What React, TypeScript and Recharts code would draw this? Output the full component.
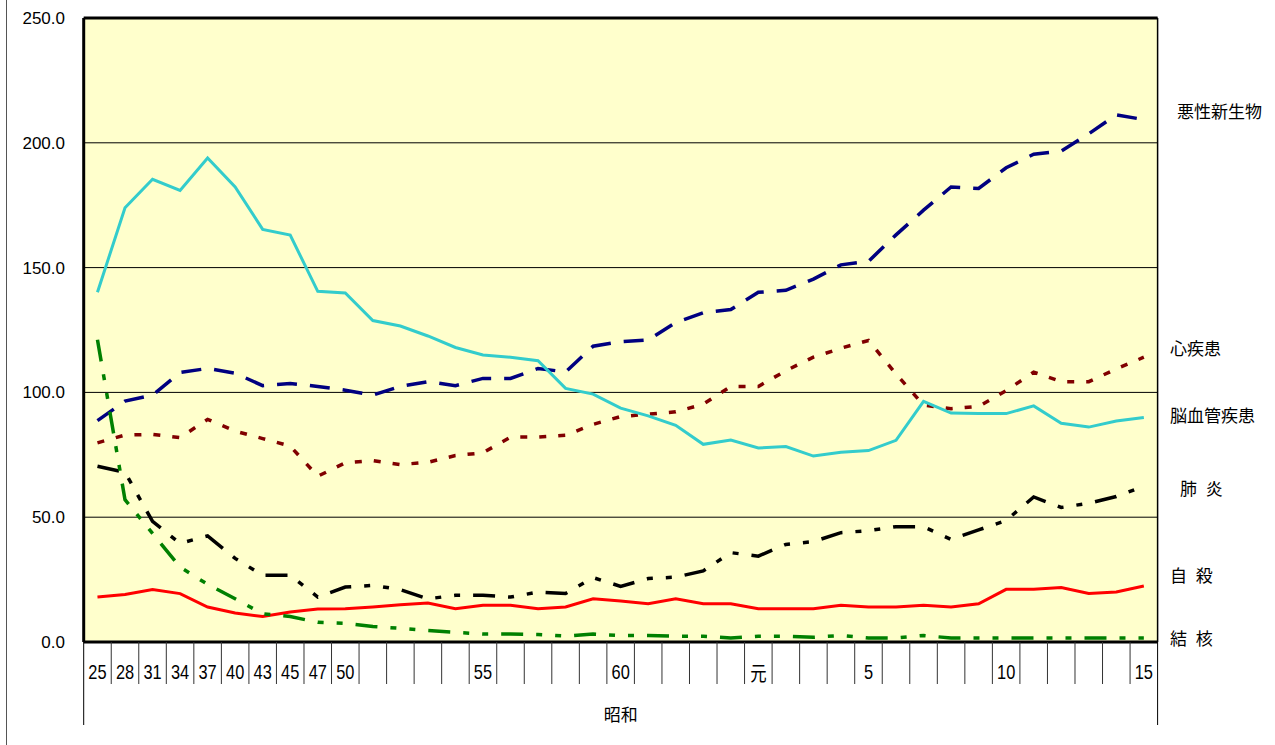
import React from 'react';
import { LineChart, Line, XAxis, YAxis, CartesianGrid, ReferenceLine } from 'recharts';

// ---- categories (昭和25 … 平成15) ----
const categories = [
  'S25', 'S28', 'S31', 'S34', 'S37', 'S40', 'S43', 'S45', 'S47', 'S50',
  'S51', 'S52', 'S53', 'S54', 'S55', 'S56', 'S57', 'S58', 'S59', 'S60',
  'S61', 'S62', 'S63', 'S64', 'H1', 'H2', 'H3', 'H4', 'H5', 'H6',
  'H7', 'H8', 'H9', 'H10', 'H11', 'H12', 'H13', 'H14', 'H15',
];

const xTickLabels = [
  '25', '28', '31', '34', '37', '40', '43', '45', '47', '50',
  '', '', '', '', '55', '', '', '', '', '60',
  '', '', '', '', '元', '', '', '', '5', '',
  '', '', '', '10', '', '', '', '', '15',
];

const yTicks = [0, 50, 100, 150, 200, 250];

// ---- series values ----
const cancer = [88.7, 96.5, 98.9, 108.0, 109.6, 107.7, 102.7, 103.6, 102.4, 100.9, 98.9, 102.4, 104.3, 102.7, 105.6, 105.6, 109.6, 108.2, 118.5, 120.3, 121.0, 128.0, 131.9, 133.2, 140.1, 140.9, 145.4, 151.1, 152.5, 163.1, 173.0, 182.3, 181.7, 190.0, 195.4, 196.7, 203.6, 211.2, 209.3];
const heart = [79.8, 82.9, 83.2, 81.9, 89.2, 84.5, 81.5, 78.5, 66.4, 71.8, 72.7, 71.1, 72.0, 74.7, 75.8, 82.1, 82.1, 82.8, 87.2, 90.3, 91.3, 92.2, 95.3, 102.4, 102.4, 108.7, 114.1, 117.7, 120.8, 107.4, 94.9, 93.5, 94.4, 100.7, 108.1, 104.3, 104.3, 109.4, 114.1];
const cerebro = [140.1, 174.0, 185.4, 180.9, 193.9, 182.3, 165.3, 163.0, 140.5, 139.8, 128.8, 126.6, 122.6, 118.0, 115.0, 114.1, 112.7, 101.6, 99.3, 93.7, 90.6, 86.8, 79.2, 80.9, 77.7, 78.3, 74.5, 76.0, 76.7, 80.8, 96.4, 91.7, 91.5, 91.5, 94.6, 87.6, 86.1, 88.5, 89.9];
const pneumonia = [70.4, 68.0, 48.3, 39.5, 42.5, 33.5, 26.7, 26.7, 18.0, 22.0, 22.7, 21.0, 17.3, 18.7, 18.7, 18.0, 20.0, 19.4, 25.8, 22.3, 25.4, 26.0, 28.5, 35.8, 34.4, 39.1, 40.2, 43.8, 44.6, 46.2, 46.2, 41.1, 44.9, 48.7, 58.1, 53.9, 55.6, 58.3, 62.4];
const suicide = [18.0, 19.0, 21.0, 19.4, 14.0, 11.6, 10.2, 12.0, 13.2, 13.3, 14.0, 14.9, 15.6, 13.3, 14.7, 14.7, 13.3, 14.0, 17.3, 16.4, 15.3, 17.3, 15.3, 15.3, 13.3, 13.3, 13.3, 14.7, 14.0, 14.0, 14.7, 14.0, 15.3, 21.1, 21.1, 21.8, 19.4, 20.0, 22.4];
const tuberculosis = [121.1, 57.0, 43.5, 30.0, 23.1, 17.3, 11.3, 10.2, 7.9, 7.5, 6.2, 5.5, 4.6, 3.9, 3.2, 3.2, 3.0, 2.4, 3.2, 2.6, 2.6, 2.3, 2.3, 1.6, 2.3, 2.3, 1.9, 2.6, 1.6, 1.6, 2.6, 1.6, 1.6, 1.6, 1.6, 1.6, 1.6, 1.6, 1.6];

const seriesNames = ['悪性新生物', '心疾患', '脳血管疾患', '肺 炎', '自 殺', '結 核'];
const eraLabel = '昭和';

const data = categories.map((c, i) => ({
  key: c,
  cancer: cancer[i],
  heart: heart[i],
  cerebro: cerebro[i],
  pneumonia: pneumonia[i],
  suicide: suicide[i],
  tuberculosis: tuberculosis[i],
}));

// ---- layout ----
const W = 1275;
const H = 745;
const PLOT_LEFT = 83.7;
const PLOT_RIGHT = 1157.6;
const PLOT_TOP = 18;
const PLOT_BOTTOM = 642;
const CELL = (PLOT_RIGHT - PLOT_LEFT) / categories.length;
const LATIN = "'Liberation Sans', Arial, Helvetica, sans-serif";
const CJK = "'Noto Sans CJK JP', 'Noto Sans CJK SC', sans-serif";

const labelPositions = [
  { x: 1177, y: 110 },
  { x: 1170, y: 347 },
  { x: 1170, y: 414 },
  { x: 1180, y: 487 },
  { x: 1170, y: 574 },
  { x: 1170, y: 637 },
];

const XTick = (props: any) => {
  const { x, y, index } = props;
  const label = xTickLabels[index];
  const last = index === categories.length - 1;
  return (
    <g>
      {index === 0 && (
        <line x1={x - CELL / 2} x2={x - CELL / 2} y1={y} y2={y + 83} stroke="#000" strokeWidth={1} />
      )}
      {last && (
        <line
          x1={x + CELL / 2}
          x2={x + CELL / 2}
          y1={y - (PLOT_BOTTOM - PLOT_TOP)}
          y2={y}
          stroke="#000"
          strokeWidth={1.5}
        />
      )}
      <line
        x1={x + CELL / 2}
        x2={x + CELL / 2}
        y1={y}
        y2={y + (last ? 83 : 42)}
        stroke={last ? '#000' : '#333'}
        strokeWidth={1}
      />
      {label !== '' && (
        <text
          transform={`translate(${x},${y + 30}) scale(0.82,1)`}
          textAnchor="middle"
          dominantBaseline="central"
          fontSize={20}
          fontFamily={label === '元' ? CJK : LATIN}
          fill="#000"
        >
          {label}
        </text>
      )}
    </g>
  );
};

const EraLabel = (props: any) => {
  const vb = props.viewBox || {};
  return (
    <text
      x={vb.x + vb.width / 2}
      y={vb.y + 71}
      textAnchor="middle"
      dominantBaseline="central"
      fontSize={17}
      fontFamily={CJK}
      fill="#000"
    >
      {eraLabel}
    </text>
  );
};

export default function App() {
  return (
    <div style={{ position: 'absolute', left: 0, top: 0, width: W, height: H, background: '#fff', overflow: 'hidden' }}>
      <div style={{ position: 'absolute', left: 6, top: 0, width: 1, height: H, background: '#555' }} />
      <LineChart
        width={W}
        height={H}
        data={data}
        margin={{ top: PLOT_TOP, right: W - PLOT_RIGHT, bottom: 0, left: 0 }}
      >
        <CartesianGrid vertical={false} stroke="#000" strokeWidth={1} fill="#FFFFCC" fillOpacity={1} />
        <XAxis
          dataKey="key"
          interval={0}
          padding={{ left: CELL / 2, right: CELL / 2 }}
          height={H - PLOT_BOTTOM}
          tickLine={false}
          tickSize={0}
          tickMargin={0}
          axisLine={{ stroke: '#000', strokeWidth: 3 }}
          tick={<XTick />}
          label={<EraLabel />}
        />
        <YAxis
          domain={[0, 250]}
          ticks={yTicks}
          width={PLOT_LEFT}
          tickLine={false}
          tickSize={0}
          tickMargin={18.7}
          axisLine={{ stroke: '#000', strokeWidth: 3 }}
          tickFormatter={(v: number) => v.toFixed(1)}
          tick={{ fontSize: 17, fill: '#000', fontFamily: LATIN }}
        />
        <ReferenceLine y={250} stroke="#000" strokeWidth={3} />
        <Line dataKey="cancer" name={seriesNames[0]} stroke="#000080" strokeWidth={3.5} strokeDasharray="20 13" dot={false} activeDot={false} isAnimationActive={false} />
        <Line dataKey="heart" name={seriesNames[1]} stroke="#800000" strokeWidth={3.5} strokeDasharray="7 12" dot={false} activeDot={false} isAnimationActive={false} />
        <Line dataKey="cerebro" name={seriesNames[2]} stroke="#33CCCC" strokeWidth={3} dot={false} activeDot={false} isAnimationActive={false} />
        <Line dataKey="pneumonia" name={seriesNames[3]} stroke="#000000" strokeWidth={3.5} strokeDasharray="22 13 6 13 6 13" dot={false} activeDot={false} isAnimationActive={false} />
        <Line dataKey="suicide" name={seriesNames[4]} stroke="#FF0000" strokeWidth={3} dot={false} activeDot={false} isAnimationActive={false} />
        <Line dataKey="tuberculosis" name={seriesNames[5]} stroke="#008000" strokeWidth={3.5} strokeDasharray="22 13 6 13 6 13" dot={false} activeDot={false} isAnimationActive={false} />
      </LineChart>
      {seriesNames.map((n, i) => (
        <div
          key={n}
          style={{
            position: 'absolute',
            left: labelPositions[i].x,
            top: labelPositions[i].y,
            transform: 'translateY(-50%)',
            fontFamily: CJK,
            fontSize: 17,
            lineHeight: 1,
            whiteSpace: 'pre',
            wordSpacing: 5,
            color: '#000',
          }}
        >
          {n}
        </div>
      ))}
    </div>
  );
}
